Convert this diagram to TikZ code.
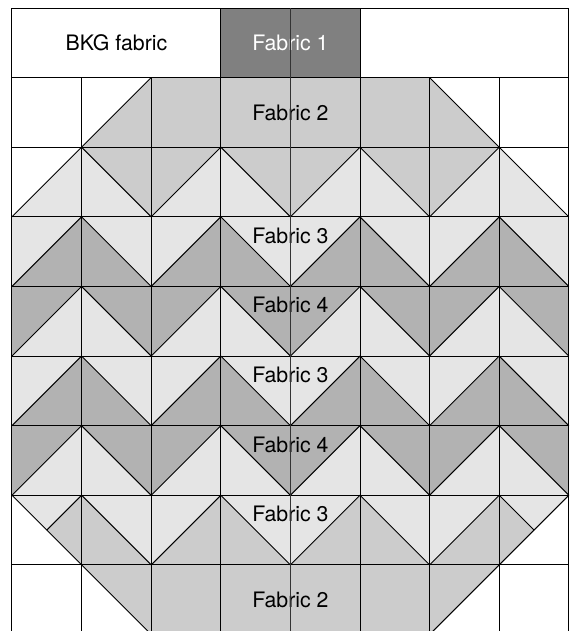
\documentclass[tikz,border=0pt]{standalone}
\usepackage{fontspec}
\setmainfont{TeX Gyre Heros}
\usetikzlibrary{positioning}
\definecolor{fabone}{gray}{0.5}
\definecolor{fabtwo}{gray}{0.8}
\definecolor{fabthree}{gray}{0.9}
\definecolor{fabfour}{gray}{0.7}
\tikzset{font=\fontsize{8.7}{10}\selectfont}
\tikzstyle{seam}=[draw=black,line width=0.4pt]
\tikzstyle{midseam}=[draw=black!80,line width=0.6pt]
\tikzstyle{lbl}=[inner sep=0pt]

\begin{document}
\begin{tikzpicture}[x=1cm,y=-1cm]
\useasboundingbox (-0.172,-0.115) rectangle (8.10,8.95);
\clip (-0.172,-0.115) rectangle (8.10,8.95);
% top row and fabric 2 rows
\fill[fabone] (3,0) rectangle (5,1);
\fill[fabtwo] (1,2) -- (2,1) -- (6,1) -- (7,2) -- cycle;
\fill[fabtwo] (1,8) -- (7,8) -- (6,9) -- (2,9) -- cycle;
% zigzag rows
\foreach \r/\t/\b in {2/fabtwo/fabthree,3/fabthree/fabfour,4/fabfour/fabthree,
  5/fabthree/fabfour,6/fabfour/fabthree,7/fabthree/fabtwo}{
  \fill[\b] (0,\r) rectangle (8,\r+1);
  \fill[\t] (0,\r) -- (0,\r+1) -- (1,\r) -- (2,\r+1) -- (3,\r) -- (4,\r+1)
    -- (5,\r) -- (6,\r+1) -- (7,\r) -- (8,\r+1) -- (8,\r) -- cycle;
}
\fill[white] (0,2) -- (1,2) -- (0,3) -- cycle;
\fill[white] (7,2) -- (8,2) -- (8,3) -- cycle;
\fill[white] (0,7) -- (1,8) -- (0,8) -- cycle;
\fill[white] (8,7) -- (8,8) -- (7,8) -- cycle;
% seams
\foreach \r in {2,...,6}
  \draw[seam] (0,\r+1) -- (1,\r) -- (2,\r+1) -- (3,\r) -- (4,\r+1) -- (5,\r)
    -- (6,\r+1) -- (7,\r) -- (8,\r+1);
\draw[seam] (0.5,7.5) -- (1,7) -- (2,8) -- (3,7) -- (4,8) -- (5,7) -- (6,8)
  -- (7,7) -- (7.5,7.5);
\draw[seam] (0,7) -- (1,8) (7,8) -- (8,7);
\draw[seam] (1,2) -- (2,1) (6,1) -- (7,2);
\draw[seam] (1,8) -- (2,9) (7,8) -- (6,9);
\foreach \x in {0,...,8}
  \draw[seam] (\x,1) -- (\x,9);
\foreach \y in {0,...,8}
  \draw[seam] (0,\y) -- (8,\y);
\draw[seam] (0,0) -- (0,1) (3,0) -- (3,1) (5,0) -- (5,1) (8,0) -- (8,1);
% labels
\node[lbl] (B) at (1.5,0.5) {BKG fabric};
\node[lbl,text=white] (F1) at (4,0.5) {Fabric 1};
\node[lbl] (F2a) at (4,1.5) {Fabric 2};
\node[lbl] (F3a) at (4,3.27) {Fabric 3};
\node[lbl] (F4a) at (4,4.27) {Fabric 4};
\node[lbl] (F3b) at (4,5.27) {Fabric 3};
\node[lbl] (F4b) at (4,6.27) {Fabric 4};
\node[lbl] (F3c) at (4,7.27) {Fabric 3};
\node[lbl] (F2b) at (4,8.5) {Fabric 2};
\draw[midseam] (4,0) -- (4,9);
\end{tikzpicture}
\end{document}
